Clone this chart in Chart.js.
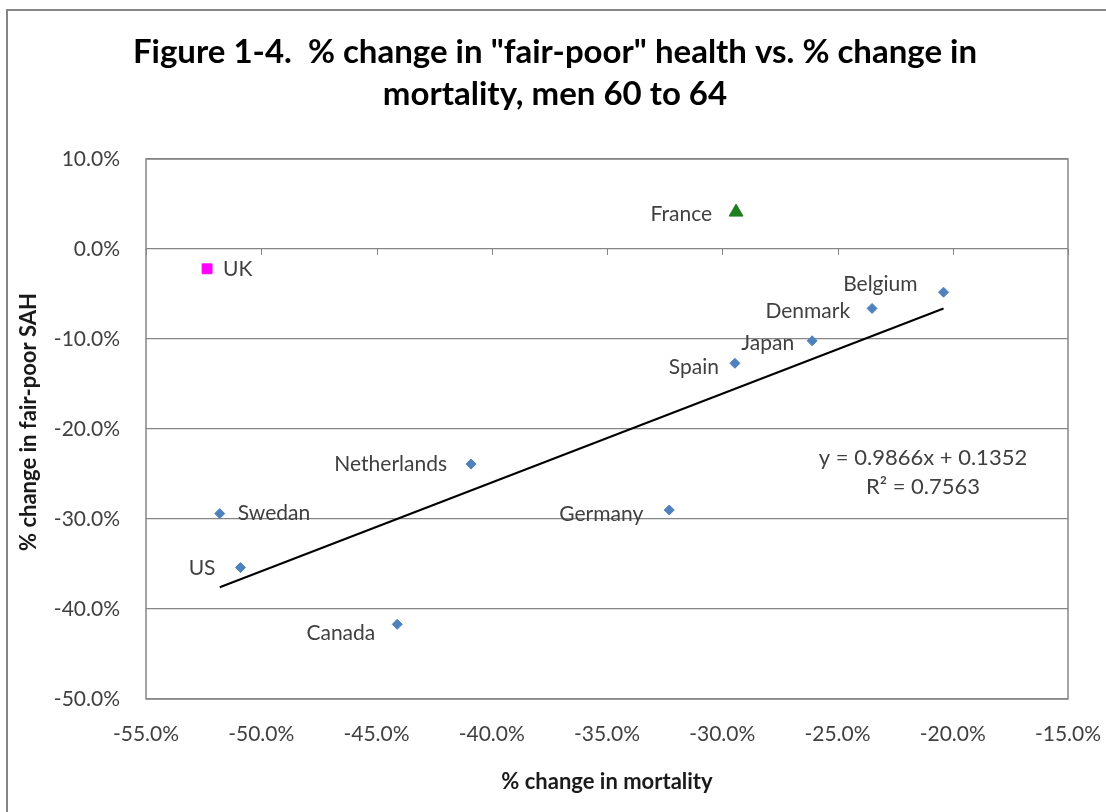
<!DOCTYPE html>
<html>
<head>
<meta charset="utf-8">
<script src="https://cdn.jsdelivr.net/npm/chart.js@4/dist/chart.umd.min.js"></script>
<style>
  body { margin: 0; background: #fff; }
  #wrap { position: relative; width: 1106px; height: 812px; overflow: hidden; }
  #frame { position: absolute; left: 6px; top: 9px; width: 1200px; height: 900px; border: 2px solid #868686; }
  canvas { position: absolute; left: 0; top: 0; }
</style>
</head>
<body>
<div id="wrap">
  <div id="frame"></div>
  <canvas id="chart" width="1106" height="812"></canvas>
</div>
<script>
// values, in percent
const countries = ['Belgium', 'Denmark', 'Japan', 'Spain', 'Netherlands', 'Germany', 'Swedan', 'US', 'Canada'];
const mortalityChange = [-20.4, -23.5, -26.1, -29.45, -40.9, -32.3, -51.8, -50.9, -44.1];
const sahChange = [-4.8, -6.6, -10.2, -12.7, -23.9, -29.0, -29.4, -35.4, -41.7];

const ukLabel = ['UK'];
const ukMortality = [-52.35];
const ukSah = [-2.2];

const franceLabel = ['France'];
const franceMortality = [-29.4];
const franceSah = [4.1];

// Excel linear trendline printed on the chart (fractions)
const trendSlope = 0.9866;
const trendIntercept = 0.1352;
const trendR2 = 0.7563;

const xTicks = [-55, -50, -45, -40, -35, -30, -25, -20, -15];
const yTicks = [10, 0, -10, -20, -30, -40, -50];

const trendX = [Math.min(...mortalityChange), Math.max(...mortalityChange)];
const trendY = trendX.map(x => trendSlope * x + trendIntercept * 100);

const FONT = 'Lato, "Open Sans", sans-serif';
const TEXT = '#404040';
const LINE = '#868686';

// label placement next to each marker: [dx, dy, align]
const blueLabelPos = [
  [-26, -8, 'right'], [-22, 3, 'right'], [-18, 2, 'right'], [-16, 4, 'right'],
  [-24, 0, 'right'], [-26, 4, 'right'], [18, 0, 'left'], [-25, 1, 'right'], [-22, 9, 'right']
];

const pointLabels = {
  id: 'pointLabels',
  afterDraw(chart) {
    const ctx = chart.ctx;
    const area = chart.chartArea;
    const xs = chart.scales.x, ys = chart.scales.y;
    ctx.save();

    // plot frame
    ctx.strokeStyle = LINE;
    ctx.lineWidth = 1.5;
    ctx.strokeRect(area.left, area.top, area.right - area.left, area.bottom - area.top);

    // tick marks on the zero line
    const y0 = ys.getPixelForValue(0);
    ctx.lineWidth = 1;
    xTicks.forEach(v => {
      const px = Math.round(xs.getPixelForValue(v)) + 0.5;
      ctx.beginPath();
      ctx.moveTo(px, y0);
      ctx.lineTo(px, y0 + 6);
      ctx.stroke();
    });

    ctx.fillStyle = TEXT;
    ctx.font = '21px ' + FONT;
    ctx.textBaseline = 'middle';

    const blue = chart.getDatasetMeta(1).data;
    blue.forEach((el, i) => {
      const [dx, dy, align] = blueLabelPos[i];
      ctx.textAlign = align;
      ctx.fillText(countries[i], el.x + dx, el.y + dy);
    });

    const uk = chart.getDatasetMeta(2).data[0];
    ctx.textAlign = 'left';
    ctx.fillText(ukLabel[0], uk.x + 16, uk.y);

    const fr = chart.getDatasetMeta(3).data[0];
    ctx.textAlign = 'right';
    ctx.fillText(franceLabel[0], fr.x - 24, fr.y + 2);

    // trendline equation
    ctx.textAlign = 'center';
    ctx.font = '22px ' + FONT;
    ctx.fillText('y = ' + trendSlope.toFixed(4) + 'x + ' + trendIntercept.toFixed(4), 923, 458);
    ctx.fillText('R\u00B2 = ' + trendR2.toFixed(4), 923, 487);

    // titles
    ctx.fillStyle = '#000';
    ctx.font = 'bold 33px ' + FONT;
    ctx.fillText('Figure 1-4.  % change in "fair-poor" health vs. % change in', 555, 52);
    ctx.fillText('mortality, men 60 to 64', 555, 94);

    ctx.fillStyle = '#1a1a1a';
    ctx.font = 'bold 22px ' + FONT;
    ctx.fillText('% change in mortality', (area.left + area.right) / 2, 782);
    ctx.translate(29, (area.top + area.bottom) / 2 - 7);
    ctx.rotate(-Math.PI / 2);
    ctx.fillText('% change in fair-poor SAH', 0, 0);
    ctx.restore();
  }
};

new Chart(document.getElementById('chart'), {
  type: 'scatter',
  data: {
    datasets: [
      {
        type: 'line',
        label: 'Trend',
        data: trendX.map((x, i) => ({ x, y: trendY[i] })),
        borderColor: '#000',
        borderWidth: 2,
        pointRadius: 0,
        fill: false
      },
      {
        label: 'Countries',
        data: mortalityChange.map((x, i) => ({ x, y: sahChange[i] })),
        pointStyle: 'rectRot',
        pointRadius: 5,
        backgroundColor: '#4f81bd',
        borderColor: '#4f81bd'
      },
      {
        label: 'UK',
        data: ukMortality.map((x, i) => ({ x, y: ukSah[i] })),
        pointStyle: 'rect',
        pointRadius: 7,
        backgroundColor: '#ff00ff',
        borderColor: '#ff00ff'
      },
      {
        label: 'France',
        data: franceMortality.map((x, i) => ({ x, y: franceSah[i] })),
        pointStyle: 'triangle',
        pointRadius: 8,
        backgroundColor: '#1f7f1f',
        borderColor: '#1f7f1f'
      }
    ]
  },
  options: {
    responsive: false,
    animation: false,
    layout: { padding: { top: 159, right: 38, bottom: 0, left: 0 } },
    plugins: {
      legend: { display: false },
      tooltip: { enabled: false },
      title: { display: false }
    },
    scales: {
      x: {
        type: 'linear',
        min: xTicks[0],
        max: xTicks[xTicks.length - 1],
        afterFit: s => { s.height = 113; s.paddingLeft = 0; s.paddingRight = 0; },
        afterBuildTicks: s => { s.ticks = xTicks.map(v => ({ value: v })); },
        ticks: {
          color: TEXT,
          font: { family: FONT, size: 21 },
          padding: 23,
          maxRotation: 0,
          callback: v => v.toFixed(1) + '%'
        },
        grid: { display: false, drawTicks: false },
        border: { display: false }
      },
      y: {
        min: yTicks[yTicks.length - 1],
        max: yTicks[0],
        afterFit: s => { s.width = 146; s.paddingTop = 0; s.paddingBottom = 0; },
        afterBuildTicks: s => { s.ticks = yTicks.slice().reverse().map(v => ({ value: v })); },
        ticks: {
          color: TEXT,
          font: { family: FONT, size: 21 },
          padding: 26,
          callback: v => v.toFixed(1) + '%'
        },
        grid: { color: LINE, lineWidth: 1.2, drawTicks: false },
        border: { display: false }
      }
    }
  },
  plugins: [pointLabels]
});
</script>
</body>
</html>
